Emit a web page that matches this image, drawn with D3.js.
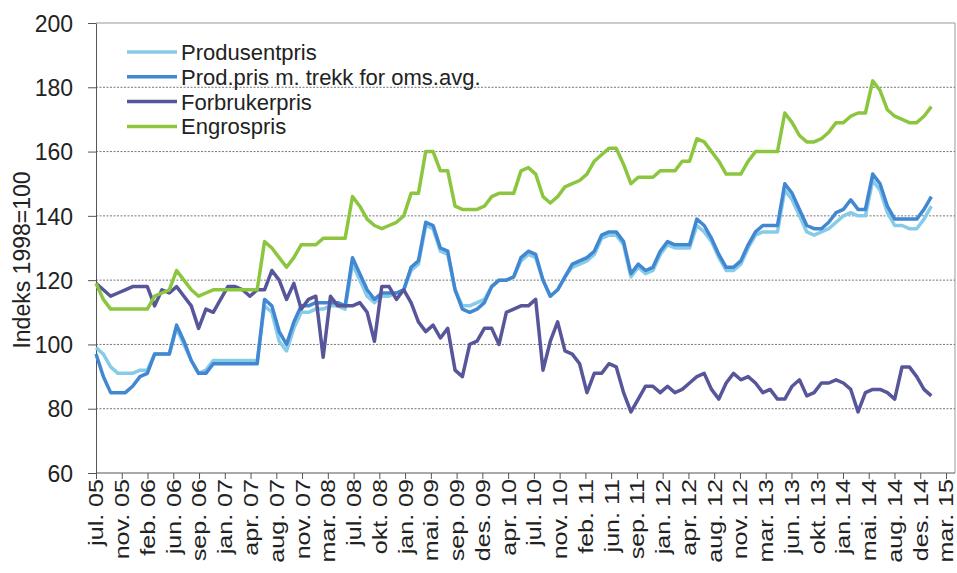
<!DOCTYPE html>
<html>
<head>
<meta charset="utf-8">
<script src="https://cdn.jsdelivr.net/npm/d3@7"></script>
<style>
  body { margin: 0; background: #fff; }
  svg text { font-family: "Liberation Sans", Arial, sans-serif; fill: #222; }
  .grid line { stroke: #777; stroke-dasharray: 2 1.5; }
  .axis path, .axis line { stroke: #555; }
</style>
</head>
<body>
<div id="chart"></div>
<script>
const width = 957,
height = 573,
margin = { top: 23, bottom: 100, left: 96, right: 7 }

// monthly values jul. 05 -> jan. 15
const produsentpris = [
  99, 97, 93, 91, 91, 91, 92, 92, 97, 97, 97, 105, 100, 95, 91, 92, 95,
  95, 95, 95, 95, 95, 95, 112, 110, 101, 98, 105, 110, 110, 111, 111, 112, 112,
  111, 125, 120, 115, 113, 115, 115, 116, 117, 123, 125, 137, 136, 129, 128, 117, 112,
  112, 113, 114, 118, 120, 120, 121, 126, 128, 127, 120, 115, 117, 121, 124, 125,
  126, 128, 133, 134, 134, 131, 121, 124, 122, 123, 128, 131, 130, 130, 130, 137,
  135, 132, 127, 123, 123, 125, 130, 134, 135, 135, 135, 148, 145, 140, 135, 134, 135,
  136, 138, 140, 141, 140, 140, 151, 148, 141, 137, 137, 136, 136, 139, 143
]
const prodprisTrekk = [
  97, 90, 85, 85, 85, 87, 90, 91, 97, 97, 97, 106, 101, 95, 91, 91, 94,
  94, 94, 94, 94, 94, 94, 114, 112, 104, 100, 107, 112, 112, 113, 113, 113, 113,
  112, 127, 122, 117, 114, 116, 116, 116, 117, 124, 126, 138, 137, 130, 129, 117, 111,
  110, 111, 113, 118, 120, 120, 121, 127, 129, 128, 120, 115, 117, 121, 125, 126,
  127, 129, 134, 135, 135, 132, 122, 125, 123, 124, 129, 132, 131, 131, 131, 139,
  137, 133, 128, 124, 124, 126, 131, 135, 137, 137, 137, 150, 147, 142, 137, 136, 136,
  138, 141, 142, 145, 142, 142, 153, 150, 143, 139, 139, 139, 139, 142, 146
]
const forbrukerpris = [
  119, 117, 115, 116, 117, 118, 118, 118, 112, 117, 116, 118, 115, 112, 105, 111, 110,
  114, 118, 118, 117, 115, 117, 117, 123, 120, 114, 119, 111, 114, 115, 96, 115, 112,
  112, 112, 113, 110, 101, 118, 118, 114, 117, 113, 107, 104, 106, 102, 105, 92, 90,
  100, 101, 105, 105, 100, 110, 111, 112, 112, 114, 92, 101, 107, 98, 97, 94,
  85, 91, 91, 94, 93, 85, 79, 83, 87, 87, 85, 87, 85, 86, 88, 90,
  91, 86, 83, 88, 91, 89, 90, 88, 85, 86, 83, 83, 87, 89, 84, 85, 88,
  88, 89, 88, 86, 79, 85, 86, 86, 85, 83, 93, 93, 90, 86, 84
]
const engrospris = [
  119, 114, 111, 111, 111, 111, 111, 111, 115, 116, 117, 123, 120, 117, 115, 116, 117,
  117, 117, 117, 117, 117, 117, 132, 130, 127, 124, 127, 131, 131, 131, 133, 133, 133,
  133, 146, 143, 139, 137, 136, 137, 138, 140, 147, 147, 160, 160, 154, 154, 143, 142,
  142, 142, 143, 146, 147, 147, 147, 154, 155, 153, 146, 144, 146, 149, 150, 151,
  153, 157, 159, 161, 161, 156, 150, 152, 152, 152, 154, 154, 154, 157, 157, 164,
  163, 160, 157, 153, 153, 153, 157, 160, 160, 160, 160, 172, 169, 165, 163, 163, 164,
  166, 169, 169, 171, 172, 172, 182, 179, 173, 171, 170, 169, 169, 171, 174
]

const tickLabels = ["jul. 05","nov. 05","feb. 06","jun. 06","sep. 06","jan. 07","apr. 07","aug. 07",
  "nov. 07","mar. 08","jul. 08","okt. 08","jan. 09","mai. 09","sep. 09","des. 09","apr. 10",
  "jul. 10","nov. 10","feb. 11","jun. 11","sep. 11","jan. 12","apr. 12","aug. 12","nov. 12",
  "mar. 13","jun. 13","okt. 13","jan. 14","mai. 14","aug. 14","des. 14","mar. 15"]

const yTicks = [60, 80, 100, 120, 140, 160, 180, 200]

const series = [
  { name: "Produsentpris", values: produsentpris, color: "#86cbe8" },
  { name: "Prod.pris m. trekk for oms.avg.", values: prodprisTrekk, color: "#4187d2" },
  { name: "Forbrukerpris", values: forbrukerpris, color: "#57569a" },
  { name: "Engrospris", values: engrospris, color: "#8cc63f" }
]

const svg = d3.select("#chart")
  .append("svg")
  .attr("width", width)
  .attr("height", height)

const lastMonth = 116
const x = d3.scaleLinear()
  .domain([0, lastMonth])
  .range([margin.left, 946])

const y = d3.scaleLinear()
  .domain([60, 200])
  .range([height - margin.bottom, margin.top])

// plot border (top + right)
svg.append("path")
  .attr("d", `M${margin.left},${y(200)}H${width - margin.right + 5}V${y(60)}`)
  .attr("fill", "none")
  .attr("stroke", "#999")

// gridlines
svg.append("g")
  .attr("class", "grid")
  .selectAll("line")
  .data(yTicks.filter(d => d > 60 && d < 200))
  .join("line")
    .attr("x1", margin.left)
    .attr("x2", width - margin.right + 5)
    .attr("y1", d => y(d))
    .attr("y2", d => y(d))

// y axis
const yAxis = svg.append("g")
  .attr("class", "axis")
  .attr("transform", `translate(${margin.left},0)`)
  .call(d3.axisLeft(y).tickValues(yTicks).tickSize(8).tickSizeOuter(0))

yAxis.selectAll("text")
  .attr("x", -23)
  .style("font-size", "23px")
  .attr("dy", "0.36em")

// x axis, 34 evenly spaced ticks
const xTickVals = d3.range(tickLabels.length).map(i => i * lastMonth / (tickLabels.length - 1))
const xAxis = svg.append("g")
  .attr("class", "axis")
  .attr("transform", `translate(0,${y(60)})`)
  .call(d3.axisBottom(x).tickValues(xTickVals).tickFormat((d, i) => tickLabels[i]).tickSize(6).tickSizeOuter(0))

xAxis.select(".domain").attr("d", `M${margin.left},0H${width - margin.right + 5}`)

// labels look stretched along their length in the original
xAxis.selectAll("text")
  .attr("x", 0)
  .attr("y", 0)
  .attr("transform", "translate(0,6) rotate(-90) scale(1.14,0.9)")
  .attr("text-anchor", "end")
  .attr("dy", "0.35em")
  .style("font-size", "22px")

// y title
svg.append("text")
  .attr("transform", `translate(30,${(y(60) + y(200)) / 2 + 12}) rotate(-90)`)
  .attr("text-anchor", "middle")
  .style("font-size", "23px")
  .text("Indeks 1998=100")

// lines
const line = d3.line()
  .x((d, i) => x(i))
  .y(d => y(d))

svg.append("g")
  .selectAll("path")
  .data(series)
  .join("path")
    .attr("d", d => line(d.values))
    .attr("fill", "none")
    .attr("stroke", d => d.color)
    .attr("stroke-width", 3.5)
    .attr("stroke-linejoin", "round")

// legend
const legend = svg.append("g")
  .attr("transform", "translate(127,52)")

const legendItem = legend.selectAll("g")
  .data(series)
  .join("g")
    .attr("transform", (d, i) => `translate(0,${i * 24.8})`)

legendItem.append("line")
  .attr("x1", 0)
  .attr("x2", 50)
  .attr("stroke", d => d.color)
  .attr("stroke-width", 3.5)

legendItem.append("text")
  .attr("x", 54)
  .attr("dy", "0.36em")
  .style("font-size", "22px")
  .text(d => d.name)
</script>
</body>
</html>
